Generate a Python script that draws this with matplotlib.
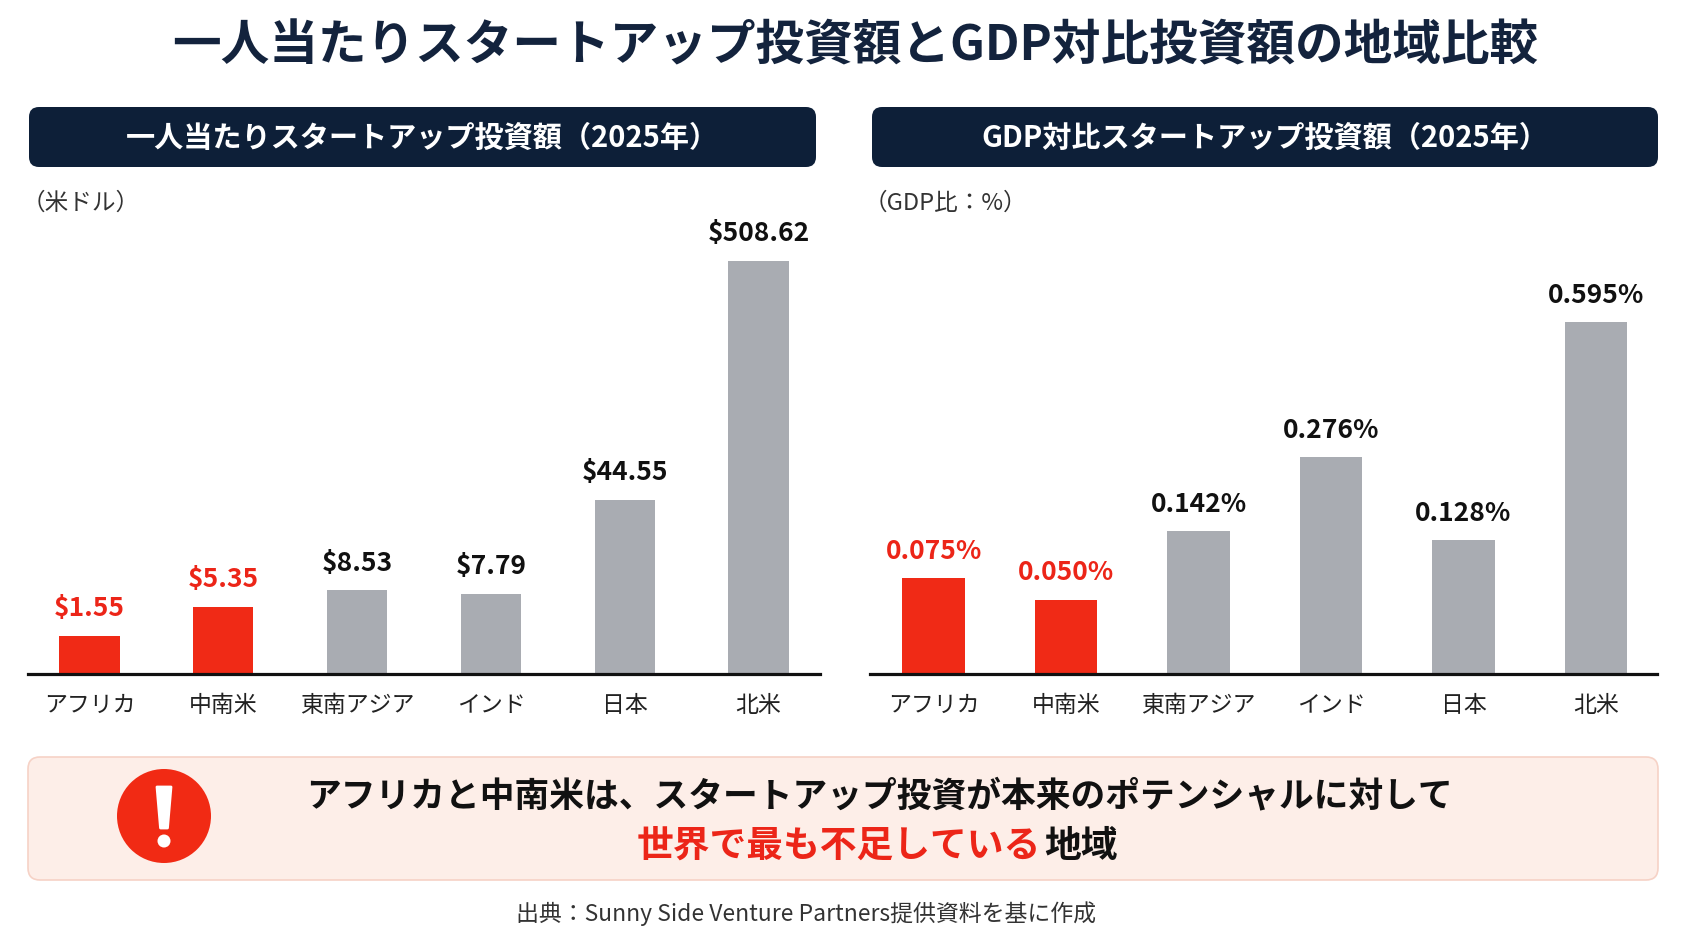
import numpy as np
import matplotlib
matplotlib.use("Agg")
import matplotlib.pyplot as plt
from matplotlib.patches import FancyBboxPatch, Circle, Polygon

plt.rcParams['font.family'] = ['Noto Sans CJK JP', 'DejaVu Sans']

# ---------------- data ----------------
categories = ['アフリカ', '中南米', '東南アジア', 'インド', '日本', '北米']
per_capita_usd = [1.55, 5.35, 8.53, 7.79, 44.55, 508.62]
gdp_ratio_pct = [0.075, 0.050, 0.142, 0.276, 0.128, 0.595]
highlight = [True, True, False, False, False, False]

title = '一人当たりスタートアップ投資額とGDP対比投資額の地域比較'
left_header = '一人当たりスタートアップ投資額（2025年）'
right_header = 'GDP対比スタートアップ投資額（2025年）'
left_unit = '（米ドル）'
right_unit = '（GDP比：%）'
msg_line1 = 'アフリカと中南米は、スタートアップ投資が本来のポテンシャルに対して'
msg_red = '世界で最も不足している'
msg_black = '地域'
source = '出典：Sunny Side Venture Partners提供資料を基に作成'

# ---------------- style ----------------
W, H = 1692, 930
RED = '#f02a16'
RED_TXT = '#ec2518'
GRAY = '#a9acb2'
NAVY = '#0d1f38'

fig = plt.figure(figsize=(W / 100, H / 100), dpi=100)
fig.patch.set_facecolor('white')

# background overlay axes in pixel coordinates
bg = fig.add_axes([0, 0, 1, 1], zorder=0)
bg.set_xlim(0, W)
bg.set_ylim(H, 0)
bg.axis('off')

bg.text(855, 46, title, ha='center', va='center', fontsize=35,
        fontweight='bold', color='#13233d')

for (x0, x1), txt in [((29, 816), left_header), ((872, 1658), right_header)]:
    bg.add_patch(FancyBboxPatch((x0, 107), x1 - x0, 60,
                                boxstyle='round,pad=0,rounding_size=10',
                                facecolor=NAVY, edgecolor='none'))
    bg.text((x0 + x1) / 2, 138, txt, ha='center', va='center', fontsize=21,
            fontweight='bold', color='white')

bg.text(22, 203, left_unit, ha='left', va='center', fontsize=17, color='#333333')
bg.text(864, 203, right_unit, ha='left', va='center', fontsize=17, color='#333333')

# message box
bg.add_patch(FancyBboxPatch((28, 757), 1630, 123,
                            boxstyle='round,pad=0,rounding_size=12',
                            facecolor='#fdeee8', edgecolor='#f6d2c6', lw=1.2))
bg.add_patch(Circle((164, 816), 47, facecolor='#f12a14', edgecolor='none'))
bg.add_patch(Polygon([(157, 787), (171, 787), (167.5, 828), (160.5, 828)],
                     closed=True, facecolor='white', edgecolor='white',
                     lw=2, joinstyle='round'))
bg.add_patch(Circle((164, 841), 6.5, facecolor='white', edgecolor='none'))

bg.text(879, 796, msg_line1, ha='center', va='center', fontsize=25,
        fontweight='bold', color='#111111')
t_red = bg.text(1041, 846, msg_red, ha='right', va='center', fontsize=26.5,
                fontweight='bold', color=RED_TXT)
bg.annotate(msg_black, xy=(1, 0.5), xycoords=t_red, xytext=(2, 0),
            textcoords='offset points', ha='left', va='center', fontsize=26.5,
            fontweight='bold', color='#111111')

bg.text(806, 914, source, ha='center', va='center', fontsize=16.5, color='#333333')


# ---------------- charts ----------------
def left_funcs():
    c, q = 200.0, 0.47
    fwd = lambda v: np.sign(v) * np.log1p(np.abs(v) / c) ** q
    inv = lambda u: np.sign(u) * c * np.expm1(np.abs(u) ** (1.0 / q))
    return fwd, inv


def right_funcs():
    p = 0.63
    fwd = lambda v: np.sign(v) * np.abs(v) ** p
    inv = lambda u: np.sign(u) * np.abs(u) ** (1.0 / p)
    return fwd, inv


def draw_chart(x0_px, x1_px, values, labels, funcs, max_bar_px, xlim, width):
    base_px, top_px = 673.5, 215.0
    ax = fig.add_axes([x0_px / W, 1 - base_px / H, (x1_px - x0_px) / W,
                       (base_px - top_px) / H], zorder=1)
    ax.set_facecolor('none')
    fwd, inv = funcs
    ax.set_yscale('function', functions=(fwd, inv))
    vmax = max(values)
    top_val = inv(fwd(vmax) * (base_px - top_px) / max_bar_px)
    ax.set_ylim(0, top_val)
    ax.set_xlim(*xlim)
    x = np.arange(len(values))
    colors = [RED if h else GRAY for h in highlight]
    ax.bar(x, values, width=width, color=colors, zorder=2)
    for xi, v, lab, h in zip(x, values, labels, highlight):
        ax.annotate(lab, xy=(xi, v), xytext=(0, 19.5), textcoords='offset points',
                    ha='center', va='center', fontsize=19, fontweight='bold',
                    color=RED_TXT if h else '#111111')
    for s in ['top', 'right', 'left']:
        ax.spines[s].set_visible(False)
    ax.spines['bottom'].set_linewidth(2.3)
    ax.spines['bottom'].set_color('#111111')
    ax.spines['bottom'].set_zorder(3)
    ax.set_yticks([])
    ax.yaxis.set_minor_locator(matplotlib.ticker.NullLocator())
    ax.set_xticks(x)
    ax.set_xticklabels(categories, fontsize=16.5, color='#222222')
    ax.tick_params(axis='x', length=0, pad=15)
    return ax


draw_chart(28, 820, per_capita_usd, [f'${v:.2f}' for v in per_capita_usd],
           left_funcs(), 412.5, (-0.46, 5.46), 0.45)
draw_chart(870, 1657, gdp_ratio_pct, [f'{v:.3f}%' for v in gdp_ratio_pct],
           right_funcs(), 351.0, (-0.48, 5.46), 0.47)

fig.savefig('out.png', dpi=100, facecolor='white')
